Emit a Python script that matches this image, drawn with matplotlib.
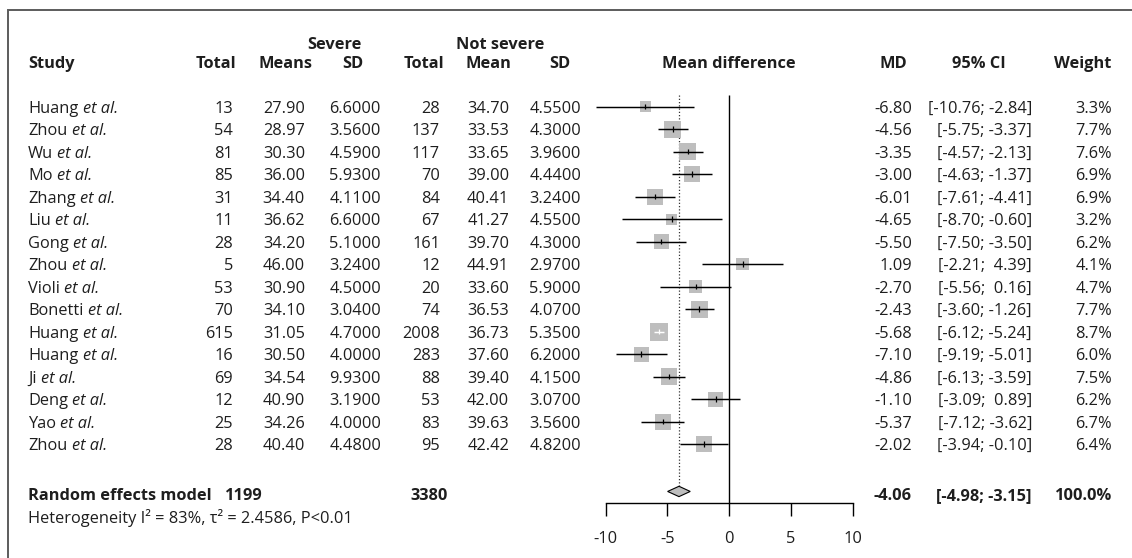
import matplotlib
matplotlib.use('Agg')
import matplotlib.pyplot as plt
import matplotlib.transforms as mtransforms
from matplotlib.patches import Rectangle
import numpy as np

# ---------------- data ----------------
studies = ["Huang", "Zhou", "Wu", "Mo", "Zhang", "Liu", "Gong", "Zhou",
           "Violi", "Bonetti", "Huang", "Huang", "Ji", "Deng", "Yao", "Zhou"]
n_severe = [13, 54, 81, 85, 31, 11, 28, 5, 53, 70, 615, 16, 69, 12, 25, 28]
mean_severe = [27.90, 28.97, 30.30, 36.00, 34.40, 36.62, 34.20, 46.00,
               30.90, 34.10, 31.05, 30.50, 34.54, 40.90, 34.26, 40.40]
sd_severe = [6.6000, 3.5600, 4.5900, 5.9300, 4.1100, 6.6000, 5.1000, 3.2400,
             4.5000, 3.0400, 4.7000, 4.0000, 9.9300, 3.1900, 4.0000, 4.4800]
n_notsevere = [28, 137, 117, 70, 84, 67, 161, 12, 20, 74, 2008, 283, 88, 53, 83, 95]
mean_notsevere = [34.70, 33.53, 33.65, 39.00, 40.41, 41.27, 39.70, 44.91,
                  33.60, 36.53, 36.73, 37.60, 39.40, 42.00, 39.63, 42.42]
sd_notsevere = [4.5500, 4.3000, 3.9600, 4.4400, 3.2400, 4.5500, 4.3000, 2.9700,
                5.9000, 4.0700, 5.3500, 6.2000, 4.1500, 3.0700, 3.5600, 4.8200]
md = [-6.80, -4.56, -3.35, -3.00, -6.01, -4.65, -5.50, 1.09,
      -2.70, -2.43, -5.68, -7.10, -4.86, -1.10, -5.37, -2.02]
ci_low = [-10.76, -5.75, -4.57, -4.63, -7.61, -8.70, -7.50, -2.21,
          -5.56, -3.60, -6.12, -9.19, -6.13, -3.09, -7.12, -3.94]
ci_high = [-2.84, -3.37, -2.13, -1.37, -4.41, -0.60, -3.50, 4.39,
           0.16, -1.26, -5.24, -5.01, -3.59, 0.89, -3.62, -0.10]
weights = [3.3, 7.7, 7.6, 6.9, 6.9, 3.2, 6.2, 4.1, 4.7, 7.7, 8.7, 6.0, 7.5, 6.2, 6.7, 6.4]

pooled_md = -4.06
pooled_low = -4.98
pooled_high = -3.15
total_severe = 1199
total_notsevere = 3380
het_text = "Heterogeneity I\u00b2 = 83%, \u03c4\u00b2 = 2.4586, P<0.01"
xticks = [-10, -5, 0, 5, 10]

# ---------------- layout ----------------
W, H, DPI = 1132, 558, 100
FS = 11.8
TXT = '#1e1e1e'
BOX = '#bebebe'
plt.rcParams['font.family'] = ['Open Sans', 'DejaVu Sans']
plt.rcParams['font.size'] = FS

fig = plt.figure(figsize=(W / DPI, H / DPI), dpi=DPI)
fig.patch.set_facecolor('white')

X0, X1 = 605.6, 852.7          # pixel position of -10 and 10
ROW0, ROWH = 106.7, 22.5       # first row centre and row height (px)
TOP_PX, BOT_PX = 90.0, 503.0


def row_of(p):
    return (p - ROW0) / ROWH


ax = fig.add_axes([X0 / W, 1 - BOT_PX / H, (X1 - X0) / W, (BOT_PX - TOP_PX) / H])
ax.set_xlim(xticks[0], xticks[-1])
ax.set_ylim(row_of(BOT_PX), row_of(TOP_PX))
ax.patch.set_alpha(0)

rows = np.arange(len(studies))
pooled_row = len(studies) + 1.1

tr = mtransforms.blended_transform_factory(fig.transFigure, ax.transData)


def txt(xpx, row, s, ha='right', bold=False, style='normal'):
    return ax.text(xpx / W, row, s, transform=tr, ha=ha, va='center_baseline',
                   fontsize=FS, fontweight='bold' if bold else 'normal',
                   fontstyle=style, color=TXT, clip_on=False)


# headers
HDR = row_of(62)
GRP = row_of(43)
txt(28, HDR, "Study", ha='left', bold=True)
txt(216, HDR, "Total", ha='center', bold=True)
txt(285, HDR, "Means", ha='center', bold=True)
txt(353, HDR, "SD", ha='center', bold=True)
txt(424, HDR, "Total", ha='center', bold=True)
txt(488, HDR, "Mean", ha='center', bold=True)
txt(560, HDR, "SD", ha='center', bold=True)
txt(334, GRP, "Severe", ha='center', bold=True)
txt(500, GRP, "Not severe", ha='center', bold=True)
ax.text(0, HDR, "Mean difference", ha='center', va='center_baseline',
        fontsize=FS, fontweight='bold', color=TXT, clip_on=False)
txt(893, HDR, "MD", ha='center', bold=True)
txt(979, HDR, "95% CI", ha='center', bold=True)
txt(1111, HDR, "Weight", ha='right', bold=True)

renderer = fig.canvas.get_renderer()
space_px = 0.26 * FS * DPI / 72.0


def ci_str(lo, hi):
    hs = f"{hi:.2f}" if hi < 0 else f" {hi:.2f}"
    return f"[{lo:.2f}; {hs}]"


for i in range(len(studies)):
    r = rows[i]
    t = txt(28, r, studies[i], ha='left')
    bb = t.get_window_extent(renderer)
    txt(bb.x1 + space_px, r, "et al.", ha='left', style='italic')
    txt(233, r, f"{n_severe[i]}")
    txt(305, r, f"{mean_severe[i]:.2f}")
    txt(381, r, f"{sd_severe[i]:.4f}")
    txt(440, r, f"{n_notsevere[i]}")
    txt(509, r, f"{mean_notsevere[i]:.2f}")
    txt(581, r, f"{sd_notsevere[i]:.4f}")
    txt(912, r, f"{md[i]:.2f}")
    txt(1032, r, ci_str(ci_low[i], ci_high[i]))
    txt(1112, r, f"{weights[i]:.1f}%")

# pooled row
PR = pooled_row + 0.12
txt(28, PR, "Random effects model", ha='left', bold=True)
txt(263, PR, f"{total_severe}", bold=True)
txt(448, PR, f"{total_notsevere}", bold=True)
txt(912, PR, f"{pooled_md:.2f}", bold=True)
txt(1032, PR, ci_str(pooled_low, pooled_high), bold=True)
txt(1112, PR, "100.0%", bold=True)
txt(28, row_of(516), het_text, ha='left')

# ---------------- forest marks ----------------
K = 19.3                                    # marker area (pt^2) per % weight
sizes = K * np.array(weights)
side_px = np.sqrt(sizes) / 0.72
px_per_unit = (X1 - X0) / (xticks[-1] - xticks[0])
ci_px = (np.array(ci_high) - np.array(ci_low)) * px_per_unit
line_cols = ['white' if c < s else 'black' for c, s in zip(ci_px, side_px)]

ax.scatter(md, rows, s=sizes, marker='s', color=BOX, linewidths=0,
           zorder=2, clip_on=False)
ax.hlines(rows, ci_low, ci_high, colors=line_cols, lw=1.05, zorder=3, clip_on=False)
ax.scatter(md, rows, s=16, marker='|', c=line_cols, linewidths=0.9,
           zorder=4, clip_on=False)

# reference lines
dh = 0.23
ax.vlines(0, -0.5, row_of(BOT_PX), color='black', lw=1.0, zorder=1)
ax.vlines(pooled_md, -0.5, pooled_row - dh, color='#333333', lw=0.9,
          linestyles=(0, (1, 1.6)), zorder=1)

# diamond
ax.fill([pooled_low, pooled_md, pooled_high, pooled_md],
        [pooled_row, pooled_row - dh, pooled_row, pooled_row + dh],
        facecolor=BOX, edgecolor='black', lw=0.8, zorder=3)

# axis
for s in ['top', 'right', 'left']:
    ax.spines[s].set_visible(False)
ax.spines['bottom'].set_bounds(xticks[0], xticks[-1])
ax.spines['bottom'].set_linewidth(1.0)
ax.set_xticks(xticks)
ax.set_xticklabels([str(v) for v in xticks])
ax.tick_params(axis='x', length=9, width=1.0, pad=11, labelsize=FS, labelcolor=TXT)
ax.set_yticks([])

# outer frame (cropped)
fig.add_artist(Rectangle((8 / W, -0.2), 2.0, 1.2 - 10 / H, transform=fig.transFigure,
                         fill=False, edgecolor='#5c5c5c', lw=1.4))

fig.savefig('out.png', dpi=DPI, facecolor='white')
